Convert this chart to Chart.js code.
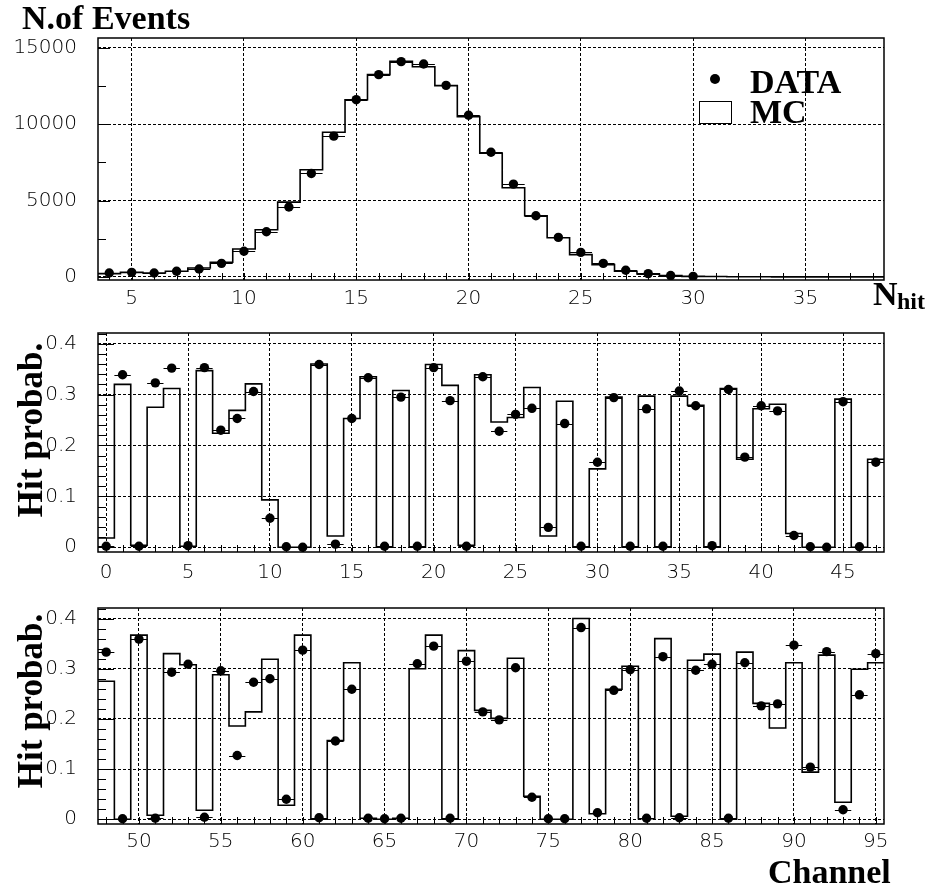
<!DOCTYPE html>
<html lang="en">
<head>
<meta charset="UTF-8">
<title>N hit and channel hit probability</title>
<script src="https://cdn.jsdelivr.net/npm/chart.js"></script>
<style>
  body { margin: 0; background: #fff; }
  #wrap { position: relative; width: 930px; height: 890px; background: #fff; overflow: hidden; }
  #wrap canvas { position: absolute; left: 0; }
  .lbl { position: absolute; font-family: "Liberation Serif", "DejaVu Serif", serif; font-weight: bold;
         color: #000; white-space: nowrap; line-height: 1; }
  .vlbl { transform: translate(-50%, -50%) rotate(-90deg); }
  .dot { position: absolute; width: 10px; height: 10px; border-radius: 50%; background: #000; }
  .box { position: absolute; border: 1px solid #000; background: #fff; }
</style>
</head>
<body>
<div id="wrap">
  <canvas id="nhitChart" width="930" height="320" style="top:0"></canvas>
  <canvas id="lowChart" width="930" height="285" style="top:300px"></canvas>
  <canvas id="highChart" width="930" height="315" style="top:575px"></canvas>

  <div class="lbl" style="left:22px;top:1px;font-size:34px">N.of Events</div>
  <div class="dot" style="left:710px;top:74px"></div>
  <div class="lbl" style="left:750px;top:65px;font-size:34px">DATA</div>
  <div class="box" style="left:699px;top:101px;width:31px;height:21px"></div>
  <div class="lbl" style="left:750px;top:95px;font-size:34px">MC</div>
  <div class="lbl" style="left:873px;top:277px;font-size:34px">N</div>
  <div class="lbl" style="left:897px;top:289px;font-size:24px">hit</div>
  <div class="lbl vlbl" style="left:30px;top:430px;font-size:35px">Hit probab.</div>
  <div class="lbl vlbl" style="left:30px;top:701px;font-size:35px">Hit probab.</div>
  <div class="lbl" style="left:768px;top:855px;font-size:34px">Channel</div>
</div>

<script>
// ---- top panel: number of hit channels per event
const nhitBins = [4, 5, 6, 7, 8, 9, 10, 11, 12, 13, 14, 15, 16, 17, 18, 19, 20, 21, 22, 23, 24, 25, 26, 27, 28, 29, 30,
                  31, 32, 33, 34, 35, 36, 37, 38];
const nhitMC = [220, 300, 260, 370, 590, 960, 1830, 3090, 4900, 7020, 9480, 11610, 13250, 14120, 13770, 12530, 10500,
                8110, 5840, 4010, 2570, 1460, 810, 370, 200, 90, 40, 25, 15, 10, 5, 5, 5, 5, 5];
const nhitData = [260, 300, 260, 370, 520, 890, 1680, 2960, 4580, 6780, 9220, 11610, 13250, 14100, 13950, 12550, 10590,
                  8170, 6080, 4010, 2590, 1610, 890, 440, 220, 90, 40];   // bins 4..30
const nhitXTicks = [5, 10, 15, 20, 25, 30, 35];
const nhitYTicks = [0, 5000, 10000, 15000];

// ---- hit probability per channel (0..95)
const probData = [
  0.002, 0.339, 0.002, 0.323, 0.352, 0.003, 0.353, 0.230, 0.253, 0.306,
  0.057, 0.001, 0.000, 0.359, 0.006, 0.253, 0.333, 0.002, 0.295, 0.002,
  0.353, 0.288, 0.002, 0.335, 0.228, 0.261, 0.273, 0.039, 0.243, 0.002,
  0.167, 0.294, 0.002, 0.272, 0.002, 0.307, 0.278, 0.003, 0.310, 0.177,
  0.278, 0.268, 0.023, 0.001, 0.000, 0.286, 0.001, 0.167,
  0.333, 0.001, 0.359, 0.002, 0.293, 0.309, 0.004, 0.296, 0.127, 0.273, 0.280, 0.040,
  0.337, 0.003, 0.156, 0.259, 0.002, 0.001, 0.002, 0.310, 0.345, 0.002,
  0.315, 0.214, 0.198, 0.302, 0.044, 0.001, 0.001, 0.382, 0.013, 0.257,
  0.298, 0.002, 0.324, 0.003, 0.297, 0.309, 0.002, 0.312, 0.226, 0.230,
  0.347, 0.104, 0.334, 0.019, 0.248, 0.330
];
const probMC = [
  0.018, 0.320, 0.004, 0.275, 0.312, 0.002, 0.347, 0.224, 0.269, 0.321,
  0.093, 0.000, 0.000, 0.360, 0.022, 0.253, 0.335, 0.000, 0.308, 0.000,
  0.359, 0.318, 0.004, 0.339, 0.246, 0.255, 0.314, 0.022, 0.287, 0.000,
  0.154, 0.295, 0.000, 0.297, 0.000, 0.297, 0.279, 0.000, 0.312, 0.173,
  0.272, 0.281, 0.027, 0.000, 0.000, 0.291, 0.000, 0.173,
  0.275, 0.000, 0.367, 0.008, 0.330, 0.308, 0.018, 0.288, 0.186, 0.214, 0.319, 0.028,
  0.367, 0.000, 0.157, 0.312, 0.002, 0.000, 0.002, 0.300, 0.367, 0.000,
  0.336, 0.217, 0.201, 0.321, 0.046, 0.000, 0.000, 0.400, 0.011, 0.259,
  0.305, 0.001, 0.360, 0.006, 0.317, 0.329, 0.000, 0.333, 0.231, 0.182,
  0.312, 0.094, 0.327, 0.034, 0.299, 0.312
];
const lowXTicks = [0, 5, 10, 15, 20, 25, 30, 35, 40, 45];
const highXTicks = [50, 55, 60, 65, 70, 75, 80, 85, 90, 95];
const probYTicks = [0, 0.1, 0.2, 0.3, 0.4];

const tickFont = { family: 'DejaVu Sans', size: 20, weight: '300' };

// histogram outline: one point on each left bin edge, plus the last right edge
function histPoints(bins, vals) {
  const pts = bins.map((b, i) => ({ x: b - 0.5, y: vals[i] }));
  pts.push({ x: bins[bins.length - 1] + 0.5, y: vals[vals.length - 1] });
  return pts;
}

// box round the plot area
const frame = {
  id: 'frame',
  afterDraw(chart) {
    const a = chart.chartArea, ctx = chart.ctx;
    ctx.save();
    ctx.strokeStyle = '#000';
    ctx.lineWidth = 1.5;
    ctx.strokeRect(a.left, a.top, a.right - a.left, a.bottom - a.top);
    ctx.restore();
  }
};

// small inward ticks on the bottom and left sides
const minorTicks = {
  id: 'minorTicks',
  afterDraw(chart, args, o) {
    const ctx = chart.ctx, a = chart.chartArea;
    const xs = chart.scales.x, ys = chart.scales.y;
    ctx.save();
    ctx.strokeStyle = '#000';
    ctx.lineWidth = 1;
    ctx.beginPath();
    for (let v = Math.ceil(xs.min / o.xStep) * o.xStep; v <= xs.max; v += o.xStep) {
      const px = Math.round(xs.getPixelForValue(v)) + 0.5;
      ctx.moveTo(px, a.bottom);
      ctx.lineTo(px, a.bottom - o.xLen);
    }
    const n = Math.round(ys.max / o.yStep);
    for (let k = 0; k <= n; k++) {
      const v = k * o.yStep;
      if (v > ys.max) break;
      const py = Math.round(ys.getPixelForValue(v)) + 0.5;
      const len = (k % o.yMajorEvery === 0) ? o.yMajorLen : o.yLen;
      ctx.moveTo(a.left, py);
      ctx.lineTo(a.left + len, py);
    }
    ctx.stroke();
    ctx.restore();
  }
};

// horizontal bars of one bin width through the data points
const xErrors = {
  id: 'xErrors',
  afterDatasetsDraw(chart) {
    const ctx = chart.ctx, xs = chart.scales.x, ys = chart.scales.y, a = chart.chartArea;
    ctx.save();
    ctx.beginPath();
    ctx.rect(a.left, a.top, a.right - a.left, a.bottom - a.top);
    ctx.clip();
    ctx.strokeStyle = '#000';
    ctx.lineWidth = 1;
    ctx.beginPath();
    chart.data.datasets.forEach(ds => {
      if (!ds.xErr) return;
      ds.data.forEach(p => {
        const py = Math.round(ys.getPixelForValue(p.y)) + 0.5;
        ctx.moveTo(xs.getPixelForValue(p.x - ds.xErr), py);
        ctx.lineTo(xs.getPixelForValue(p.x + ds.xErr), py);
      });
    });
    ctx.stroke();
    ctx.restore();
  }
};

function makePanel(id, cfg) {
  return new Chart(document.getElementById(id), {
    type: 'line',
    data: {
      datasets: [
        {
          label: 'DATA',
          data: cfg.dataBins.map((b, i) => ({ x: b, y: cfg.data[i] })),
          showLine: false,
          pointRadius: 4.7,
          pointBackgroundColor: '#000',
          pointBorderWidth: 0,
          xErr: 0.5
        },
        {
          label: 'MC',
          data: histPoints(cfg.mcBins, cfg.mc),
          stepped: 'before',
          borderColor: '#000',
          borderWidth: 1.6,
          pointRadius: 0,
          fill: false
        }
      ]
    },
    options: {
      responsive: false,
      animation: false,
      events: [],
      layout: { padding: { top: cfg.top, right: 46, left: 0, bottom: 0 } },
      plugins: { legend: { display: false }, tooltip: { enabled: false }, minorTicks: cfg.minor },
      scales: {
        x: {
          type: 'linear',
          min: cfg.xMin, max: cfg.xMax,
          afterBuildTicks: s => { s.ticks = cfg.xTicks.map(v => ({ value: v })); },
          afterFit: s => { s.height = cfg.xHeight; },
          grid: { color: '#000', lineWidth: 1, drawTicks: false },
          border: { display: false, dash: [3, 2] },
          ticks: { color: '#000', font: tickFont, padding: cfg.xPad, maxRotation: 0, autoSkip: false,
                   callback: v => String(v) }
        },
        y: {
          type: 'linear',
          min: cfg.yMin, max: cfg.yMax,
          afterBuildTicks: s => { s.ticks = cfg.yTicks.map(v => ({ value: v })); },
          afterFit: s => { s.width = 98; },
          grid: { color: '#000', lineWidth: 1, drawTicks: false },
          border: { display: false, dash: [3, 2] },
          ticks: { color: '#000', font: tickFont, padding: 21, callback: v => String(v) }
        }
      }
    },
    plugins: [xErrors, minorTicks, frame]
  });
}

const channels = probData.map((_, i) => i);

makePanel('nhitChart', {
  dataBins: nhitBins.slice(0, nhitData.length), data: nhitData,
  mcBins: nhitBins, mc: nhitMC,
  xMin: 3.5, xMax: 38.5, yMin: -200, yMax: 15650,
  xTicks: nhitXTicks, yTicks: nhitYTicks,
  top: 38, xHeight: 40, xPad: 7,
  minor: { xStep: 1, xLen: 7, yStep: 2500, yLen: 8, yMajorEvery: 2, yMajorLen: 12 }
});

makePanel('lowChart', {
  dataBins: channels.slice(0, 48), data: probData.slice(0, 48),
  mcBins: channels.slice(0, 48), mc: probMC.slice(0, 48),
  xMin: -0.5, xMax: 47.5, yMin: -0.0094, yMax: 0.421,
  xTicks: lowXTicks, yTicks: probYTicks,
  top: 9, xHeight: 33, xPad: 9,
  minor: { xStep: 1, xLen: 7, yStep: 0.02, yLen: 8, yMajorEvery: 5, yMajorLen: 16 }
});

makePanel('highChart', {
  dataBins: channels.slice(48), data: probData.slice(48),
  mcBins: channels.slice(48), mc: probMC.slice(48),
  xMin: 47.5, xMax: 95.5, yMin: -0.0094, yMax: 0.421,
  xTicks: highXTicks, yTicks: probYTicks,
  top: 7, xHeight: 66, xPad: 6,
  minor: { xStep: 1, xLen: 7, yStep: 0.02, yLen: 8, yMajorEvery: 5, yMajorLen: 16 }
});
</script>
</body>
</html>
